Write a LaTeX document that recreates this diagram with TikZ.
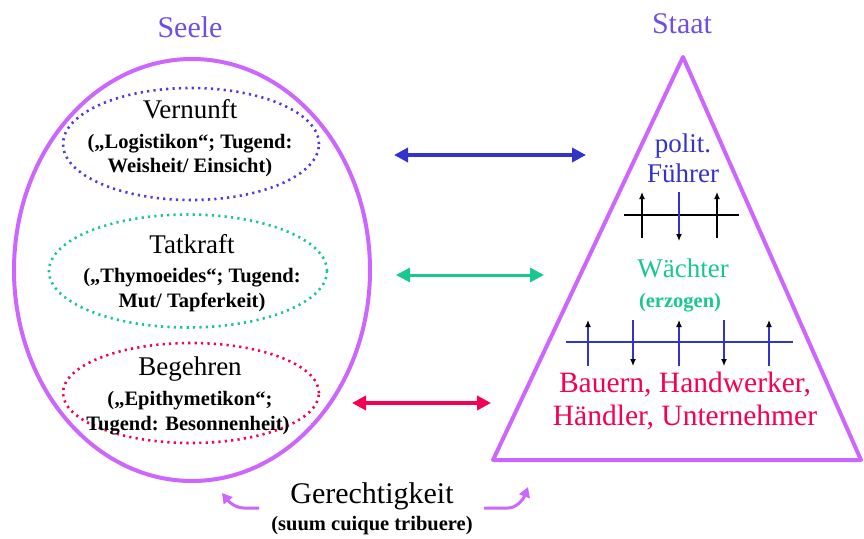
\documentclass[tikz,border=0pt]{standalone}
\usepackage{fontspec}
\setmainfont{Liberation Serif}
\usetikzlibrary{arrows.meta,shapes.geometric}
\definecolor{titlecol}{RGB}{112,78,230}
\definecolor{purp}{RGB}{204,102,255}
\definecolor{blu}{RGB}{51,51,204}
\definecolor{dotblu}{RGB}{80,60,220}
\definecolor{grn}{RGB}{24,200,140}
\definecolor{rd}{RGB}{245,0,85}
\tikzset{
  bigtxt/.style={anchor=base,inner sep=0pt,font=\fontsize{30}{34}\selectfont},
  midtxt/.style={anchor=base,inner sep=0pt,font=\fontsize{27}{31}\selectfont},
  subtxt/.style={anchor=base,inner sep=0pt,font=\fontsize{20.5}{24}\selectfont\bfseries},
  dotell/.style={ellipse,draw,line width=2.6pt,dash pattern=on 2.2pt off 4.2pt,inner sep=0pt},
  linkarr/.style={line width=3.5pt,{Triangle[length=14pt,width=14pt]}-{Triangle[length=14pt,width=14pt]}},
  smallarr/.style={line width=1.2pt,-{Latex[length=7pt,width=6pt,black]}},
  hookarr/.style={purp,line width=3pt,-{Triangle[length=10pt,width=11pt]}}
}
\begin{document}
\begin{tikzpicture}[x=1pt,y=-1pt]
\useasboundingbox (0,0) rectangle (864,538);
% titles
\node[bigtxt,titlecol] (seele) at (190,37) {Seele};
\node[bigtxt,titlecol] (staat) at (682,33) {Staat};
% soul ellipse
\node[ellipse,draw=purp,line width=4pt,minimum width=356pt,minimum height=422pt,inner sep=0pt] (soul) at (192,270) {};
% state triangle
\coordinate (apex) at (683,57);
\coordinate (bl) at (493,460);
\coordinate (br) at (861,460);
\draw[purp,line width=4pt,line join=round] (apex) -- (bl) -- (br) -- cycle;
% inner ellipses
\node[dotell,draw=dotblu,minimum width=256pt,minimum height=112pt] (vern) at (191,144) {};
\node[dotell,draw=grn,minimum width=278pt,minimum height=113pt] (tat) at (188,271) {};
\node[dotell,draw=rd,minimum width=256pt,minimum height=100pt] (beg) at (191,393) {};
% soul texts
\node[midtxt] (t1) at (190,118) {Vernunft};
\node[subtxt] (t1a) at (190,148) {(„Logistikon“; Tugend:};
\node[subtxt] (t1b) at (190,172) {Weisheit/ Einsicht)};
\node[midtxt] (t2) at (192,253) {Tatkraft};
\node[subtxt] (t2a) at (192,282) {(„Thymoeides“; Tugend:};
\node[subtxt] (t2b) at (192,307) {Mut/ Tapferkeit)};
\node[midtxt] (t3) at (190,375) {Begehren};
\node[subtxt] (t3a) at (190,405) {(„Epithymetikon“;};
\node[subtxt] (t3b) at (188,430) {Tugend: Besonnenheit)};
% state texts
\node[midtxt,blu] (s1) at (683,152) {polit.};
\node[midtxt,blu] (s1b) at (683,182) {Führer};
\node[midtxt,grn] (s2) at (683,277) {Wächter};
\node[subtxt,grn] (s2b) at (680,307) {(erzogen)};
\node[bigtxt,rd,font=\fontsize{29.5}{34}\selectfont] (s3) at (685,392) {Bauern, Handwerker,};
\node[bigtxt,rd,font=\fontsize{29.5}{34}\selectfont] (s3b) at (685,425) {Händler, Unternehmer};
% connecting arrows
\coordinate (a1l) at (394,155); \coordinate (a1r) at (586,155);
\coordinate (a2l) at (396,275); \coordinate (a2r) at (544,275);
\coordinate (a3l) at (352,403); \coordinate (a3r) at (491,403);
\draw[linkarr,blu] (a1l) -- (a1r);
\draw[linkarr,grn,line width=3pt] (a2l) -- (a2r);
\draw[linkarr,rd] (a3l) -- (a3r);
% upper hierarchy arrows
\coordinate (h1l) at (624,215); \coordinate (h1r) at (739,215);
\draw[black,line width=1.2pt] (h1l) -- (h1r);
\draw[smallarr] (642,238) -- (642,192);
\draw[smallarr,draw=blu] (679,192) -- (679,241);
\draw[smallarr] (717,238) -- (717,192);
% lower hierarchy arrows
\coordinate (h2l) at (566,342); \coordinate (h2r) at (793,342);
\draw[blu,line width=1.2pt] (h2l) -- (h2r);
\foreach \x in {588,679,769} \draw[smallarr,draw=blu] (\x,366) -- (\x,320);
\foreach \x in {633,724} \draw[smallarr,draw=blu] (\x,320) -- (\x,366);
% justice
\node[bigtxt] (g) at (372,503) {Gerechtigkeit};
\node[subtxt] (gs) at (372,530) {(suum cuique tribuere)};
\coordinate (cl0) at (259,508); \coordinate (cl1) at (222,493);
\coordinate (cr0) at (484,508); \coordinate (cr1) at (528,487);
\draw[hookarr] (cl0) -- (244,508) .. controls (236,508) and (230,503) .. (cl1);
\draw[hookarr] (cr0) -- (508,508) .. controls (516,508) and (523,500) .. (cr1);
\end{tikzpicture}
\end{document}
